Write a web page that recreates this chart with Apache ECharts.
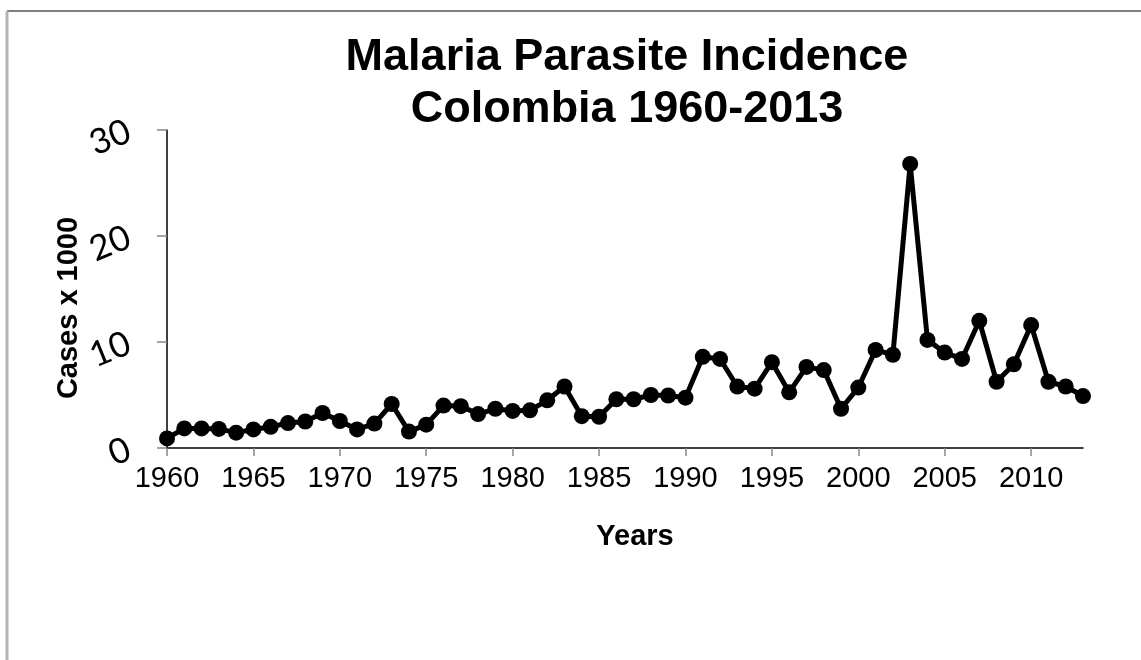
<!DOCTYPE html>
<html>
<head>
<meta charset="utf-8">
<script src="https://cdn.jsdelivr.net/npm/echarts@6/dist/echarts.min.js"></script>
<style>html,body{margin:0;padding:0;background:#fff}#c{width:1141px;height:660px}</style>
</head>
<body>
<div id="c"></div>
<script>
const years = [1960,1961,1962,1963,1964,1965,1966,1967,1968,1969,1970,1971,1972,1973,1974,1975,1976,1977,1978,1979,1980,1981,1982,1983,1984,1985,1986,1987,1988,1989,1990,1991,1992,1993,1994,1995,1996,1997,1998,1999,2000,2001,2002,2003,2004,2005,2006,2007,2008,2009,2010,2011,2012,2013];
const cases = [0.9,1.85,1.85,1.8,1.45,1.75,2.0,2.35,2.5,3.3,2.55,1.75,2.3,4.15,1.55,2.2,4.0,3.95,3.2,3.7,3.5,3.55,4.5,5.8,3.0,2.95,4.6,4.6,5.0,4.95,4.75,8.6,8.4,5.8,5.6,8.1,5.25,7.65,7.35,3.7,5.7,9.25,8.8,26.8,10.2,9.0,8.4,12.0,6.25,7.9,11.6,6.25,5.8,4.9];
const xTicks = [1960,1965,1970,1975,1980,1985,1990,1995,2000,2005,2010];
const titleLines = ['Malaria Parasite Incidence', 'Colombia 1960-2013'];

const chart = echarts.init(document.getElementById('c'));
chart.setOption({
  backgroundColor: '#fff',
  animation: false,
  title: {
    text: titleLines.join('\n'),
    left: 622,
    textAlign: 'center',
    top: 27,
    textStyle: { fontFamily: 'Liberation Sans, Arial, sans-serif', fontWeight: 'bold', fontSize: 45, lineHeight: 52, color: '#000' }
  },
  graphic: [
    { type: 'line', shape: { x1: 7, y1: 11, x2: 1141, y2: 11 }, style: { stroke: '#555', lineWidth: 1.5 } },
    { type: 'line', shape: { x1: 7, y1: 11, x2: 7, y2: 660 }, style: { stroke: '#b3b3b3', lineWidth: 3 } }
  ],
  grid: { left: 167, right: 58, top: 130, bottom: 212 },
  xAxis: {
    type: 'value',
    min: 1960, max: 2013, interval: 5,
    name: 'Years',
    nameLocation: 'middle',
    nameGap: 74,
    nameTextStyle: { fontFamily: 'Liberation Sans, Arial, sans-serif', fontWeight: 'bold', fontSize: 29, color: '#000', padding: [0, 0, 0, 20] },
    splitLine: { show: false },
    axisLine: { lineStyle: { color: '#000', width: 1.5 } },
    axisTick: { length: 8, lineStyle: { color: '#888', width: 1.5 }, customValues: xTicks },
    axisLabel: { customValues: xTicks, margin: 16, formatter: v => String(v), fontFamily: 'Liberation Sans, Arial, sans-serif', fontSize: 29, color: '#000' }
  },
  yAxis: {
    type: 'value',
    min: 0, max: 30, interval: 10,
    name: 'Cases x 1000',
    nameLocation: 'middle',
    nameGap: 84,
    nameMoveOverlap: false,
    nameTextStyle: { fontFamily: 'Liberation Sans, Arial, sans-serif', fontWeight: 'bold', fontSize: 29, color: '#000', padding: [0, 38, 0, 0] },
    splitLine: { show: false },
    axisLine: { show: true, lineStyle: { color: '#000', width: 1.5 } },
    axisTick: { show: true, length: 10, lineStyle: { color: '#888', width: 1.5 } },
    axisLabel: { rotate: 22, margin: 38, fontFamily: 'Lato, sans-serif', fontWeight: 'normal', fontSize: 35, color: '#000' }
  },
  series: [{
    type: 'line',
    data: years.map((y, i) => [y, cases[i]]),
    symbol: 'circle',
    symbolSize: 16,
    lineStyle: { color: '#000', width: 5 },
    itemStyle: { color: '#000' },
    clip: false
  }]
});
</script>
</body>
</html>
